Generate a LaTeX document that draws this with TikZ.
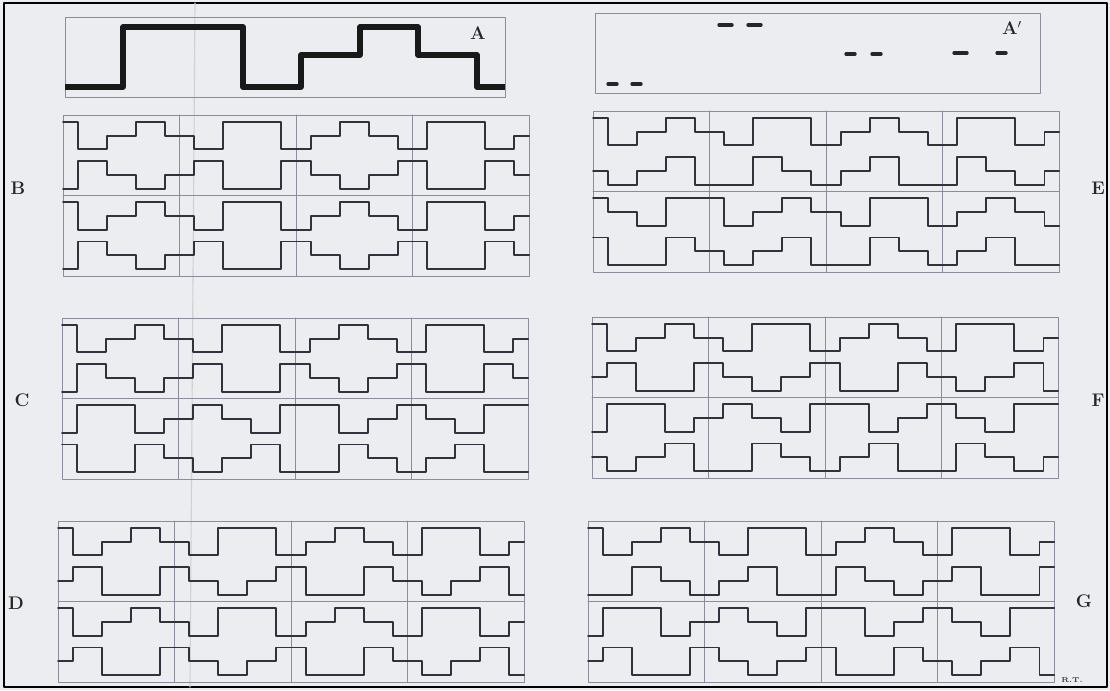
\documentclass[tikz,border=0pt]{standalone}
\usepackage{tikz}

\definecolor{platePaper}{RGB}{236,237,241}
\definecolor{plateInk}{RGB}{50,50,60}
\definecolor{plateRule}{RGB}{140,140,155}

\providecommand{\plateLevelStep}{0.48}
\providecommand{\plateInkWidth}{1.4pt}
\providecommand{\plateRuleWidth}{0.6pt}

\tikzset{
  motifline/.style={draw=plateInk, line width=\plateInkWidth},
  motifthick/.style={draw=black!90, line width=3.6pt, line cap=butt},
  motifdash/.style={draw=black!85, line width=2.4pt},
  gridline/.style={draw=plateRule, line width=\plateRuleWidth},
  platelabel/.style={font=\fontsize{13}{13}\selectfont\bfseries, text=black!85, inner sep=0pt},
}

% one stepped row: #1 base height, #2 level at the left edge, #3 the next 16 levels
\newcommand{\platerow}[3]{%
  \draw[motifline] (0,{#1+\plateLevelStep*#2})
    foreach \lv [count=\k] in {#3} { -| ({\k-0.5},{#1+\plateLevelStep*\lv}) } -- ++(0.5,0);
}

% frame, middle rule and cell rules of one panel
\newcommand{\platepanel}{%
  \draw[gridline] (0,0) rectangle (16,5.6);
  \draw[gridline] (0,2.8) -- (16,2.8);
  \foreach \xd in {4,8,12} { \draw[gridline] (\xd,0) -- (\xd,5.6); }
}

\begin{document}
\begin{tikzpicture}[x=0.025cm, y=-0.025cm, line cap=round, line join=round]
% Paper, frame and crease
\useasboundingbox (0,0) rectangle (1110,690);
\fill[platePaper] (0,0) rectangle (1110,690);
\draw[black, line width=1.5pt] (4,3) rectangle (1107,687);
\draw[black!18, line width=0.8pt] (195,3) -- (190,687);

% Motif A
\draw[gridline] (65,17) rectangle (505,97);
\draw[motifthick] (65,87) -| (123,27) -| (243,87) -| (301,55) -| (360,27) -| (418,55) -| (477,87) -- (505,87);
\node[platelabel] (labA) at (478,33) {A};

% Motif A', only the flat pieces
\draw[gridline] (595,13) rectangle (1040,93);
\draw[motifdash] (608,84) -- (617,84);
\draw[motifdash] (632,84) -- (641,84);
\draw[motifdash] (719,25) -- (732,25);
\draw[motifdash] (748,25) -- (761,25);
\draw[motifdash] (846,54) -- (855,54);
\draw[motifdash] (872,54) -- (881,54);
\draw[motifdash] (954,53) -- (967,53);
\draw[motifdash] (997,53) -- (1006,53);
\node[platelabel] (labAp) at (1012,28) {A$'$};

% Panel B
\begin{scope}[shift={(63,276)}, x=0.728cm, y=0.71875cm]
  \platepanel
  \platerow{4.4}{2}{0,1,2,1,0,2,2,0,1,2,1,0,2,2,0,1}
  \platerow{3.04}{0}{2,1,0,1,2,0,0,2,1,0,1,2,0,0,2,1}
  \platerow{1.6}{2}{0,1,2,1,0,2,2,0,1,2,1,0,2,2,0,1}
  \platerow{0.24}{0}{2,1,0,1,2,0,0,2,1,0,1,2,0,0,2,1}
\end{scope}
\node[platelabel] (labB) at (18,188) {B};

% Panel E
\begin{scope}[shift={(593,272)}, x=0.728cm, y=0.71875cm]
  \platepanel
  \platerow{4.4}{2}{0,1,2,1,0,2,2,0,1,2,1,0,2,2,0,1}
  \platerow{3.04}{1}{0,1,2,0,0,2,1,0,1,2,0,0,2,1,0,1}
  \platerow{1.6}{2}{1,0,2,2,0,1,2,1,0,2,2,0,1,2,1,0}
  \platerow{0.24}{2}{0,0,2,1,0,1,2,0,0,2,1,0,1,2,0,0}
\end{scope}
\node[platelabel] (labE) at (1098,188) {E};

% Panel C
\begin{scope}[shift={(62,479)}, x=0.728cm, y=0.71875cm]
  \platepanel
  \platerow{4.4}{2}{0,1,2,1,0,2,2,0,1,2,1,0,2,2,0,1}
  \platerow{3.04}{0}{2,1,0,1,2,0,0,2,1,0,1,2,0,0,2,1}
  \platerow{1.6}{0}{2,2,0,1,2,1,0,2,2,0,1,2,1,0,2,2}
  \platerow{0.24}{2}{0,0,2,1,0,1,2,0,0,2,1,0,1,2,0,0}
\end{scope}
\node[platelabel] (labC) at (22,400) {C};

% Panel F
\begin{scope}[shift={(592,478)}, x=0.728cm, y=0.71875cm]
  \platepanel
  \platerow{4.4}{2}{0,1,2,1,0,2,2,0,1,2,1,0,2,2,0,1}
  \platerow{3.04}{1}{2,0,0,2,1,0,1,2,0,0,2,1,0,1,2,0}
  \platerow{1.6}{0}{2,2,0,1,2,1,0,2,2,0,1,2,1,0,2,2}
  \platerow{0.24}{1}{0,1,2,0,0,2,1,0,1,2,0,0,2,1,0,1}
\end{scope}
\node[platelabel] (labF) at (1098,400) {F};

% Panel D
\begin{scope}[shift={(58,682)}, x=0.728cm, y=0.71875cm]
  \platepanel
  \platerow{4.4}{2}{0,1,2,1,0,2,2,0,1,2,1,0,2,2,0,1}
  \platerow{3.04}{1}{2,0,0,2,1,0,1,2,0,0,2,1,0,1,2,0}
  \platerow{1.6}{2}{0,1,2,1,0,2,2,0,1,2,1,0,2,2,0,1}
  \platerow{0.24}{1}{2,0,0,2,1,0,1,2,0,0,2,1,0,1,2,0}
\end{scope}
\node[platelabel] (labD) at (16,603) {D};

% Panel G
\begin{scope}[shift={(588,682)}, x=0.728cm, y=0.71875cm]
  \platepanel
  \platerow{4.4}{2}{0,1,2,1,0,2,2,0,1,2,1,0,2,2,0,1}
  \platerow{3.04}{0}{0,2,1,0,1,2,0,0,2,1,0,1,2,0,0,2}
  \platerow{1.6}{0}{2,2,0,1,2,1,0,2,2,0,1,2,1,0,2,2}
  \platerow{0.24}{1}{2,0,0,2,1,0,1,2,0,0,2,1,0,1,2,0}
\end{scope}
\node[platelabel] (labG) at (1084,601) {G};
\node[font=\fontsize{5}{5}\selectfont\bfseries, text=black!80, inner sep=0pt] (labRT) at (1072,680) {R.T.};
\end{tikzpicture}
\end{document}
